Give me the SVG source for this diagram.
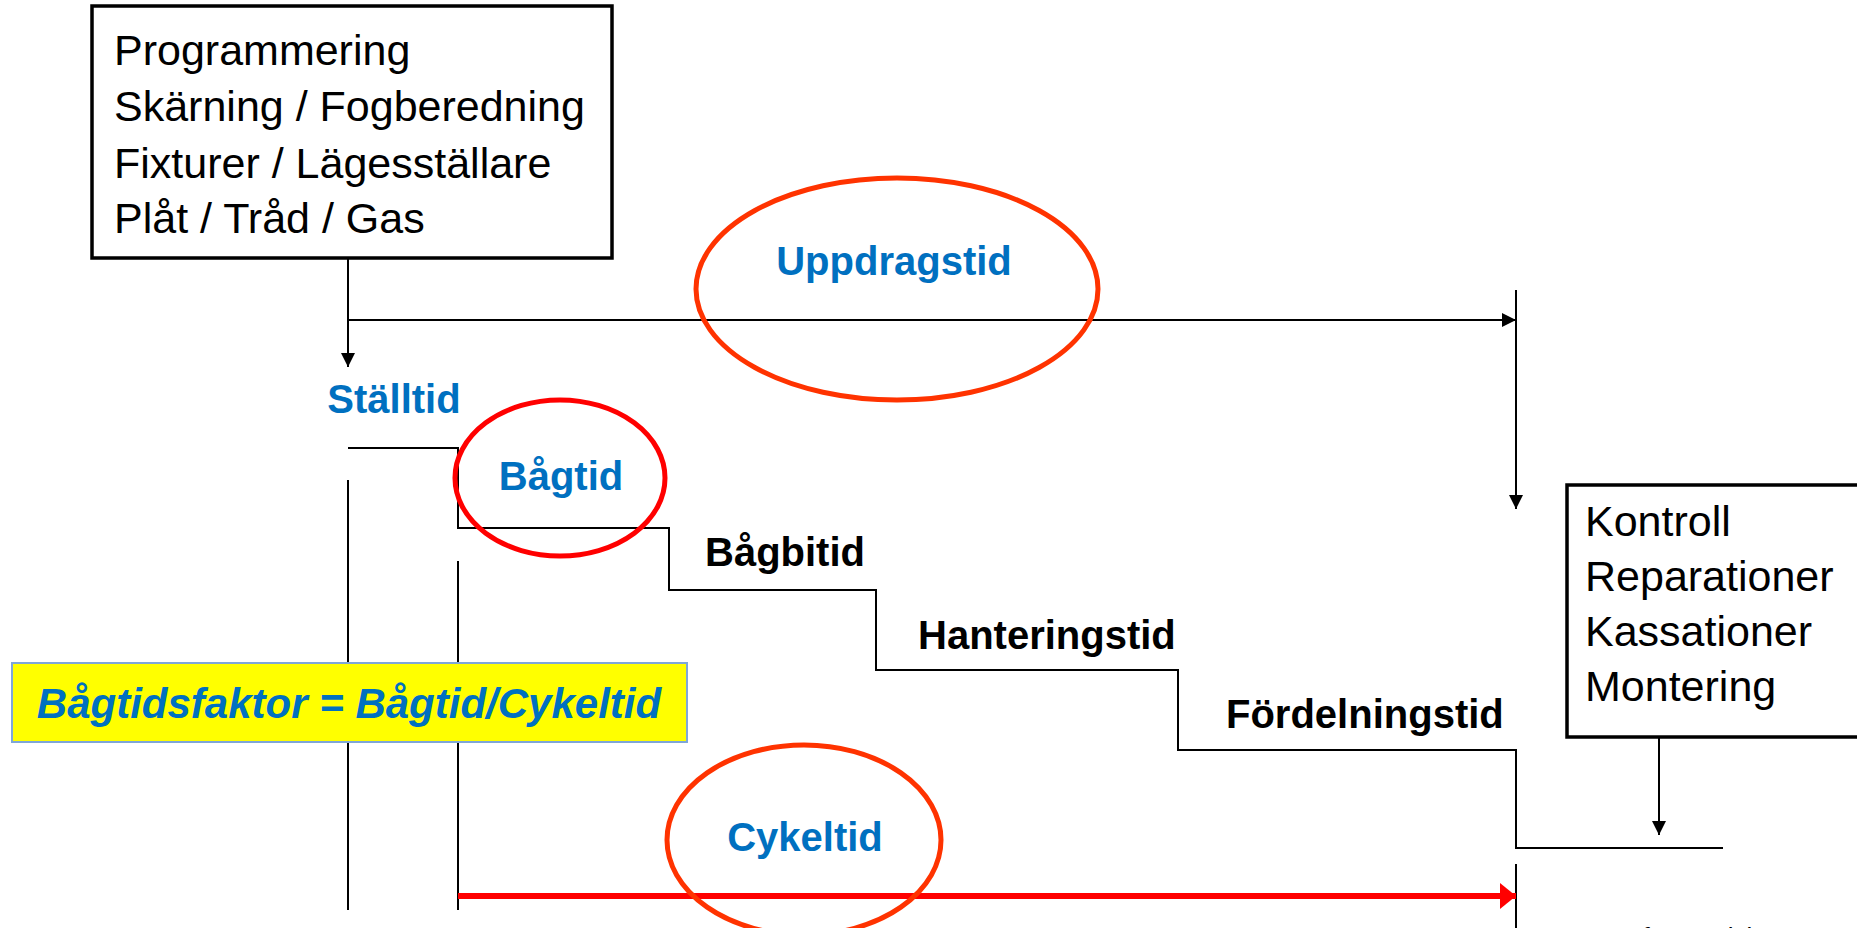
<svg xmlns="http://www.w3.org/2000/svg" width="1857" height="928" viewBox="0 0 1857 928">
<style>
.box{fill:#fff;stroke:#000;stroke-width:3.5}
.t{font-family:"Liberation Sans",Arial,sans-serif;font-size:43px;fill:#000}
.lbl{font-family:"Liberation Sans",Arial,sans-serif;font-size:40px;font-weight:bold}
.blue{fill:#0070C0}
.blk{fill:#000}
.ln{fill:none;stroke:#000;stroke-width:2}
.ell{fill:none;stroke-width:5}
</style>
<defs>
<marker id="ah" markerUnits="userSpaceOnUse" markerWidth="14" markerHeight="14" viewBox="0 0 14 14" refX="14" refY="7" orient="auto">
<path d="M0,0 L14,7 L0,14 Z" fill="#000"/>
</marker>
<marker id="ahr" markerUnits="userSpaceOnUse" markerWidth="16" markerHeight="26" viewBox="0 0 16 26" refX="16" refY="13" orient="auto">
<path d="M0,0 L16,13 L0,26 Z" fill="#ff0000"/>
</marker>
</defs>
<rect width="1857" height="928" fill="#fff"/>

<g id="connectors">
<line class="ln" x1="348" y1="258" x2="348" y2="367" marker-end="url(#ah)"/>
<line class="ln" x1="348" y1="320" x2="1516" y2="320" marker-end="url(#ah)"/>
<line class="ln" x1="1516" y1="290" x2="1516" y2="509" marker-end="url(#ah)"/>
<polyline class="ln" points="348,448 458,448 458,528 669,528 669,590 876,590 876,670 1178,670 1178,750 1516,750 1516,848 1723,848"/>
<line class="ln" x1="348" y1="480" x2="348" y2="910"/>
<line class="ln" x1="458" y1="561" x2="458" y2="910"/>
<line class="ln" x1="1516" y1="864" x2="1516" y2="928"/>
<line x1="458" y1="896" x2="1516" y2="896" stroke="#ff0000" stroke-width="6" marker-end="url(#ahr)"/>
<line class="ln" x1="1659" y1="738" x2="1659" y2="835" marker-end="url(#ah)"/>
</g>

<g id="node-input">
<rect class="box" x="92" y="6" width="520" height="252"/>
<text class="t" x="114" y="65">Programmering</text>
<text class="t" x="114" y="121">Skärning / Fogberedning</text>
<text class="t" x="114" y="178">Fixturer / Lägesställare</text>
<text class="t" x="114" y="233">Plåt / Tråd / Gas</text>
</g>

<g id="node-output">
<rect class="box" x="1567" y="485" width="300" height="252"/>
<text class="t" x="1585" y="536">Kontroll</text>
<text class="t" x="1585" y="591">Reparationer</text>
<text class="t" x="1585" y="646">Kassationer</text>
<text class="t" x="1585" y="701">Montering</text>
</g>

<g id="node-uppdragstid">
<ellipse class="ell" cx="897" cy="289" rx="201" ry="111" stroke="#ff3300"/>
<text class="lbl blue" x="894" y="275" text-anchor="middle">Uppdragstid</text>
</g>

<g id="node-stalltid">
<text class="lbl blue" x="394" y="413" text-anchor="middle">Ställtid</text>
</g>

<g id="node-bagtid">
<ellipse class="ell" cx="560" cy="478" rx="105" ry="78" stroke="#ff0000"/>
<text class="lbl blue" x="561" y="490" text-anchor="middle">Bågtid</text>
</g>

<g id="node-bagbitid">
<text class="lbl blk" x="705" y="566">Bågbitid</text>
</g>

<g id="node-hanteringstid">
<text class="lbl blk" x="918" y="649">Hanteringstid</text>
</g>

<g id="node-fordelningstid">
<text class="lbl blk" x="1226" y="728">Fördelningstid</text>
</g>

<g id="node-formula">
<rect x="12" y="663" width="675" height="79" fill="#ffff00" stroke="#7fa7d8" stroke-width="2"/>
<text x="349" y="718" text-anchor="middle" font-family="Liberation Sans, Arial, sans-serif" font-size="42" font-weight="bold" font-style="italic" fill="#0070C0">Bågtidsfaktor = Bågtid/Cykeltid</text>
</g>

<g id="node-cykeltid">
<ellipse class="ell" cx="804" cy="840" rx="137" ry="95" stroke="#ff3300"/>
<text class="lbl blue" x="805" y="851" text-anchor="middle">Cykeltid</text>
</g>

<g id="node-source">
<text x="1628" y="946" font-family="Liberation Sans, Arial, sans-serif" font-size="26" fill="#000">efter Karlsbo Syst</text>
</g>
</svg>
